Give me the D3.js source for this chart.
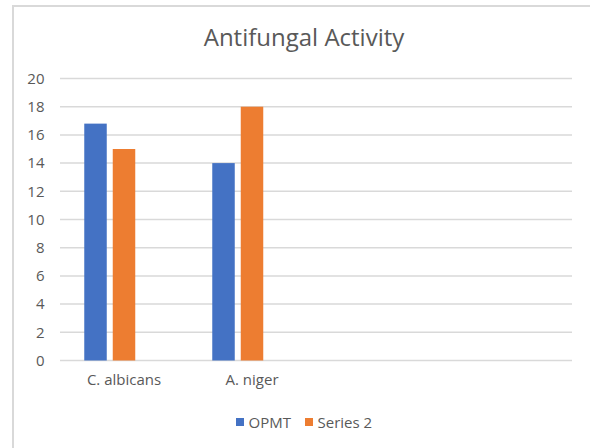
<!DOCTYPE html>
<html>
<head>
<meta charset="utf-8">
<script src="https://cdn.jsdelivr.net/npm/d3@7"></script>
<style>
  html, body { margin: 0; padding: 0; background: #ffffff; }
  svg { display: block; }
  text { font-family: "Open Sans", sans-serif; fill: #595959; }
</style>
</head>
<body>
<svg id="chart" width="590" height="448"></svg>
<script>
// ---- data ----
const categories = ["C. albicans", "A. niger", "", " "];
const seriesNames = ["OPMT", "Series 2", "Series 3"];
const opmt = [16.8, 14, null, null];
const series2 = [15, 18, null, null];
const series3 = [null, null, null, null];
const yTicks = [0, 2, 4, 6, 8, 10, 12, 14, 16, 18, 20];
const legendNames = ["OPMT", "Series 2"];
const colors = ["#4472c4", "#ed7d31", "#a5a5a5"];
const title = "Antifungal Activity";

const seriesValues = [opmt, series2, series3];
const FONT = "'Open Sans', sans-serif";

const svg = d3.select("#chart");

// outer chart border
svg.append("rect")
  .attr("x", 13).attr("y", 6)
  .attr("width", 640).attr("height", 500)
  .attr("fill", "none").attr("stroke", "#d9d9d9").attr("stroke-width", 2);

const plot = { left: 60, right: 572, top: 78.5, bottom: 360.5 };

const x0 = d3.scaleBand().domain(categories)
  .range([plot.left, plot.right])
  .paddingInner(0.379).paddingOuter(0.1895);
const x1 = d3.scaleBand().domain(seriesNames)
  .range([0, x0.bandwidth()])
  .paddingInner(0.2105);
const y = d3.scaleLinear().domain([0, 20]).range([plot.bottom, plot.top]);

// gridlines
svg.append("g").selectAll("line").data(yTicks).join("line")
  .attr("x1", plot.left).attr("x2", plot.right)
  .attr("y1", d => y(d)).attr("y2", d => y(d))
  .attr("stroke", "#d9d9d9").attr("stroke-width", 1.5);

// y axis labels
const yAxis = d3.axisLeft(y).tickValues(yTicks).tickSize(0).tickPadding(0);
const yg = svg.append("g").attr("transform", `translate(${44.5},0)`).call(yAxis);
yg.select(".domain").remove();
yg.selectAll("text").attr("font-size", 15).attr("fill", "#595959")
  .style("font-family", FONT);

// bars
const rows = [];
categories.forEach((c, i) => {
  seriesNames.forEach((s, j) => {
    const v = seriesValues[j][i];
    if (v != null) rows.push({ c, s, v, color: colors[j] });
  });
});
svg.append("g").selectAll("rect").data(rows).join("rect")
  .attr("x", d => x0(d.c) + x1(d.s))
  .attr("width", x1.bandwidth())
  .attr("y", d => y(d.v))
  .attr("height", d => y(0) - y(d.v))
  .attr("fill", d => d.color);

// x axis labels
const xAxis = d3.axisBottom(x0).tickSize(0).tickPadding(0);
const xg = svg.append("g").attr("transform", `translate(0,${plot.bottom + 14})`).call(xAxis);
xg.select(".domain").remove();
xg.selectAll("text").attr("font-size", 15).attr("fill", "#595959")
  .style("font-family", FONT);

// title
svg.append("text")
  .attr("x", 304).attr("y", 46)
  .attr("text-anchor", "middle")
  .attr("font-size", 24)
  .text(title);

// legend
const legendX = [236, 305];
const lg = svg.append("g").selectAll("g").data(legendNames).join("g")
  .attr("transform", (d, i) => `translate(${legendX[i]},${418})`);
lg.append("rect").attr("x", 0).attr("y", 0).attr("width", 8).attr("height", 8)
  .attr("fill", (d, i) => colors[i]);
lg.append("text").attr("x", 12.5).attr("y", 9.5)
  .attr("font-size", 15).text(d => d);
</script>
</body>
</html>
